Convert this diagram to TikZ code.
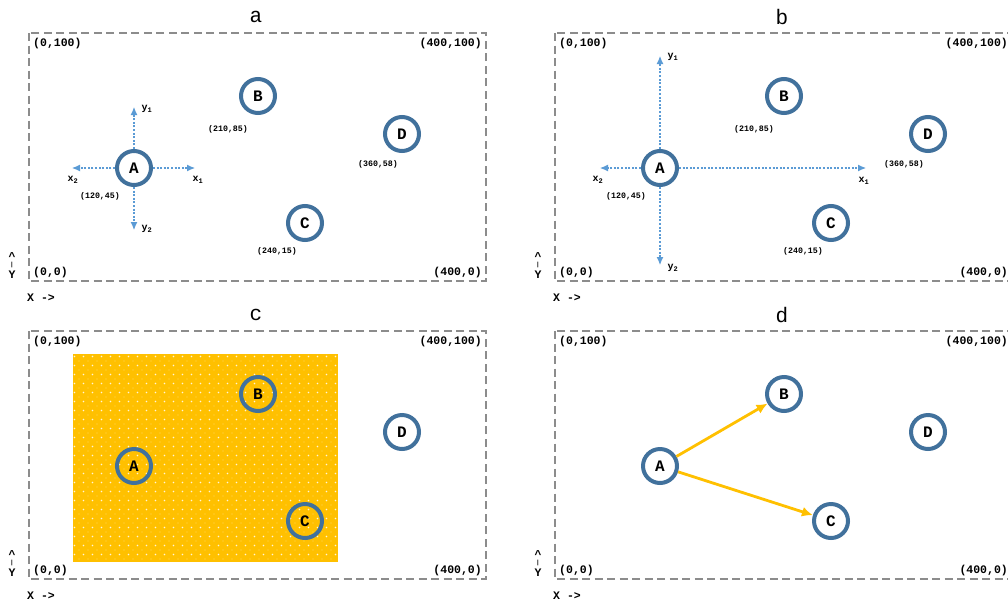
\documentclass[tikz,border=0pt]{standalone}
\usepackage{fontspec}
\setmonofont{Liberation Mono}
\usepackage{tikz}
\usetikzlibrary{arrows.meta, positioning, calc}
\definecolor{NodeBlue}{HTML}{41719C}
\definecolor{AxisBlue}{HTML}{5B9BD5}
\definecolor{RegionGold}{HTML}{FFC000}
\definecolor{FrameGrey}{HTML}{8C8C8C}

\begin{document}
\begin{tikzpicture}[x=1pt, y=-1pt,
    pt/.style={circle, draw=NodeBlue, line width=4pt, minimum size=34pt, inner sep=0pt, font=\ttfamily\bfseries\fontsize{16}{16}\selectfont},
    coord/.style={font=\ttfamily\bfseries\fontsize{8.3}{9}\selectfont, inner sep=0pt},
    axlab/.style={font=\ttfamily\bfseries\fontsize{10}{10}\selectfont, inner sep=0pt},
    corner/.style={font=\ttfamily\bfseries\fontsize{11.5}{12}\selectfont, inner sep=0pt},
    axis/.style={AxisBlue, line width=1.1pt, dash pattern=on 2pt off 1.6pt, -{Latex[length=8pt,width=7pt]}},
    link/.style={RegionGold, line width=2.8pt, -{Latex[length=11pt,width=10pt]}}]
    \useasboundingbox (0,0) rectangle (1008,603);
    \fill [white] (0,0) rectangle (1008,603);

    % shaded region in panel c, with its dot texture
    \fill [RegionGold] (73,354) rectangle (338,562);
    \foreach \i in {0,...,29} {
        \foreach \j in {0,...,22} {
            \fill [white, opacity=0.85] (74.5+9*\i, 356.5+9*\j) circle (0.8);
            \fill [white, opacity=0.35] (79+9*\i, 361+9*\j) circle (0.6);
        }
    }

    % the four frames with their corner marks
    \foreach \p/\ox/\oy in {a/29/33, b/555/33, c/29/331, d/555/331} {
        \begin{scope}[shift={(\ox,\oy)}]
            \draw [FrameGrey, line width=1.3pt, dash pattern=on 8pt off 4.5pt] (0,0) rectangle (457,248);
            \node [font=\ttfamily\fontsize{21}{21}\selectfont] (title-\p) at (227,-16) {\p};
            \node [corner, anchor=west] (tl-\p) at (4,11) {(0,100)};
            \node [corner, anchor=east] (tr-\p) at (453,11) {(400,100)};
            \node [corner, anchor=west] (bl-\p) at (4,240) {(0,0)};
            \node [corner, anchor=east] (br-\p) at (453,240) {(400,0)};
            % little upward arrow beside the Y
            \node [corner] (yup-\p) at (-17,224) {\textasciicircum};
            \node [corner, font=\ttfamily\bfseries\fontsize{6}{6}\selectfont] (ybar-\p) at (-17,232) {|};
            \node [corner] (ylab-\p) at (-17,242) {Y};
            \node [corner, anchor=west] (xlab-\p) at (-2,265) {X ->};
            % points A to D
            \node [pt] (A-\p) at (105,135) {A};
            \node [pt] (B-\p) at (229,63) {B};
            \node [pt] (C-\p) at (276,190) {C};
            \node [pt] (D-\p) at (373,101) {D};
        \end{scope}
    }

    % coordinate labels for panels a and b
    \foreach \p/\ox in {a/29, b/555} {
        \begin{scope}[shift={(\ox,33)}]
            \node [coord] (la-\p) at (71,163) {(120,45)};
            \node [coord] (lb-\p) at (199,96) {(210,85)};
            \node [coord] (lc-\p) at (248,218) {(240,15)};
            \node [coord] (ld-\p) at (349,131) {(360,58)};
        \end{scope}
    }

    % local axes around A, short in panel a
    \begin{scope}[shift={(29,33)}]
        \coordinate (x1-a) at (166,135);
        \coordinate (x2-a) at (43,135);
        \coordinate (y1-a) at (105,74);
        \coordinate (y2-a) at (105,197);
        \node [axlab] at (169,147) {x\textsubscript{1}};
        \node [axlab] at (44,147) {x\textsubscript{2}};
        \node [axlab] at (118,76) {y\textsubscript{1}};
        \node [axlab] at (118,196) {y\textsubscript{2}};
    \end{scope}
    \foreach \e in {x1, x2, y1, y2}
        \draw [axis] (A-a) -- (\e-a);

    % long axes in panel b
    \begin{scope}[shift={(555,33)}]
        \coordinate (x1-b) at (311,135);
        \coordinate (x2-b) at (45,135);
        \coordinate (y1-b) at (105,23);
        \coordinate (y2-b) at (105,232);
        \node [axlab] at (309,148) {x\textsubscript{1}};
        \node [axlab] at (43,147) {x\textsubscript{2}};
        \node [axlab] at (118,24) {y\textsubscript{1}};
        \node [axlab] at (118,235) {y\textsubscript{2}};
    \end{scope}
    \foreach \e in {x1, x2, y1, y2}
        \draw [axis] (A-b) -- (\e-b);

    % links in panel d
    \draw [link] (A-d) -- (B-d);
    \draw [link] (A-d) -- (C-d);
\end{tikzpicture}
\end{document}
